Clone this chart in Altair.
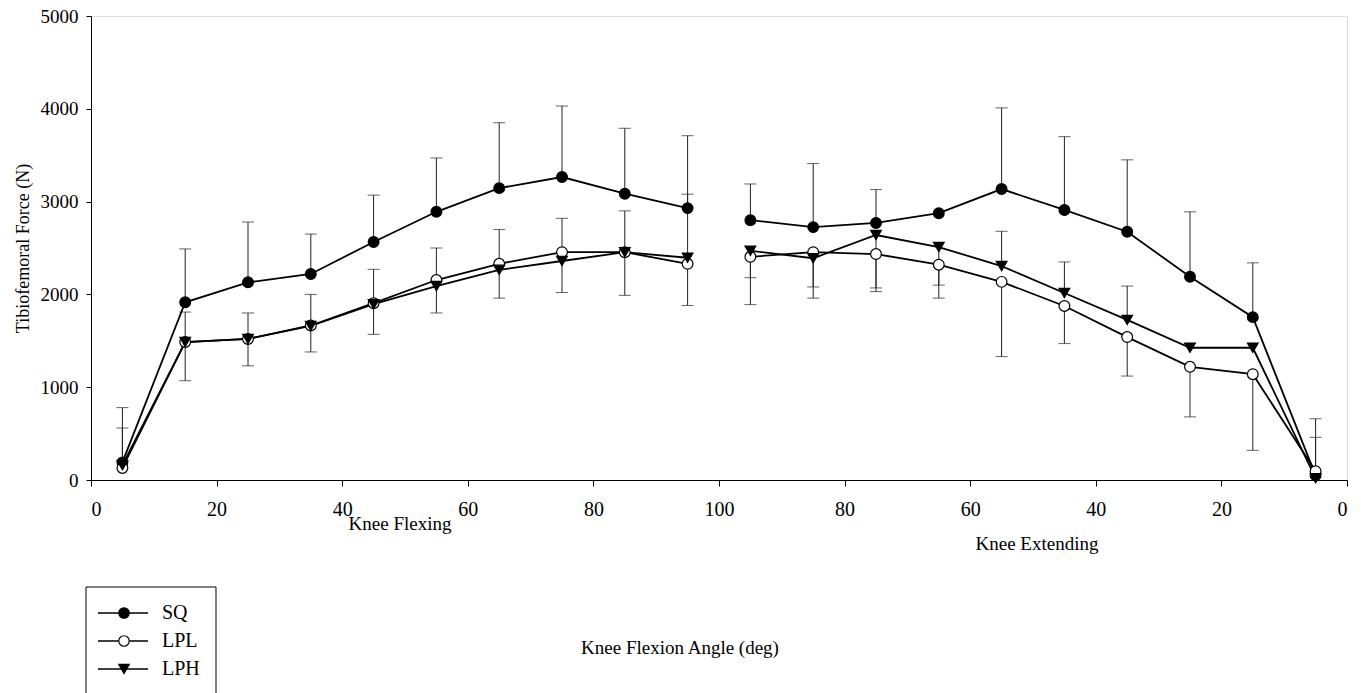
import altair as alt
import pandas as pd

# ---- data ----
angle_pos = [5, 15, 25, 35, 45, 55, 65, 75, 85, 95,
             105, 115, 125, 135, 145, 155, 165, 175, 185, 195]
segment = ["flex"] * 10 + ["ext"] * 10

sq = [190, 1915, 2130, 2220, 2565, 2890, 3145, 3265, 3085, 2930,
      2800, 2725, 2770, 2875, 3135, 2910, 2675, 2190, 1755, 50]
lpl = [130, 1487, 1520, 1665, 1905, 2155, 2330, 2455, 2455, 2330,
       2405, 2455, 2435, 2320, 2135, 1875, 1540, 1220, 1140, 95]
lph = [160, 1487, 1520, 1660, 1895, 2090, 2265, 2360, 2455, 2395,
       2470, 2390, 2640, 2510, 2305, 2015, 1725, 1425, 1425, 20]

# error bar end points (None = no bar drawn)
sq_err = [780, 2490, 2780, 2650, 3070, 3470, 3850, 4030, 3790, 3710,
          3190, 3410, 3130, None, 4010, 3700, 3450, 2890, 2340, 660]
lpl_err = [None, 1070, 1230, 1380, 1570, 1800, 1960, 2020, 1990, 1880,
           1890, 1960, 2030, 1960, 1330, 1470, 1120, 680, 320, None]
lph_err = [560, 1810, 1800, 2000, 2270, 2500, 2700, 2820, 2900, 3080,
           2180, 2080, 2070, 2100, 2680, 2350, 2090, None, None, 460]

series_names = ["SQ", "LPL", "LPH"]
series_vals = [sq, lpl, lph]
series_errs = [sq_err, lpl_err, lph_err]
shapes = ["circle", "circle", "triangle-down"]
fills = ["black", "white", "black"]

x_ticks = [0, 20, 40, 60, 80, 100, 120, 140, 160, 180, 200]
y_ticks = [0, 1000, 2000, 3000, 4000, 5000]

rows, err_rows = [], []
for name, vals, errs in zip(series_names, series_vals, series_errs):
    for x, seg, v, e in zip(angle_pos, segment, vals, errs):
        rows.append({"series": name, "x": x, "seg": seg, "y": v})
        if e is not None:
            err_rows.append({"series": name, "x": x, "y": v, "end": e})
df = pd.DataFrame(rows)
err_df = pd.DataFrame(err_rows)

FONT = "Liberation Serif"
W, H = 1256, 464

xs = alt.Scale(domain=[0, 200], nice=False)
ys = alt.Scale(domain=[0, 5000], nice=False)

x_enc = alt.X("x:Q", scale=xs, axis=alt.Axis(
    values=x_ticks, title=None, grid=False,
    labelExpr="datum.value <= 100 ? datum.value : 200 - datum.value",
    labelFont=FONT, labelFontSize=20, labelColor="black",
    tickColor="black", domainColor="black", tickSize=6, labelPadding=13))
y_enc = alt.Y("y:Q", scale=ys, axis=alt.Axis(
    values=y_ticks, title="Tibiofemoral Force (N)", grid=False, format="d",
    labelFont=FONT, labelFontSize=19, labelColor="black", labelPadding=8,
    titleFont=FONT, titleFontSize=18, titleFontWeight="normal", titleColor="black",
    titlePadding=8, tickColor="black", domainColor="black", tickSize=5))

err_rule = alt.Chart(err_df).mark_rule(color="#222", strokeWidth=1).encode(
    x=alt.X("x:Q", scale=xs), y=alt.Y("y:Q", scale=ys), y2="end:Q")
err_cap = alt.Chart(err_df).mark_tick(color="#222", thickness=1, size=12, orient="horizontal").encode(
    x=alt.X("x:Q", scale=xs), y=alt.Y("end:Q", scale=ys))

lines = alt.Chart(df).mark_line(color="black", strokeWidth=1.8).encode(
    x=x_enc, y=y_enc, detail=["series:N", "seg:N"])

pts = alt.Chart(df).mark_point(size=115, stroke="black", strokeWidth=1.2, opacity=1).encode(
    x=alt.X("x:Q", scale=xs), y=alt.Y("y:Q", scale=ys),
    shape=alt.Shape("series:N", scale=alt.Scale(domain=series_names, range=shapes), legend=None),
    fill=alt.Fill("series:N", scale=alt.Scale(domain=series_names, range=fills), legend=None))

base_txt = alt.Chart(pd.DataFrame({"a": [0]}))
t1 = base_txt.mark_text(font=FONT, fontSize=19, color="black").encode(
    x=alt.value(309), y=alt.value(508), text=alt.value("Knee Flexing"))
t2 = base_txt.mark_text(font=FONT, fontSize=19, color="black").encode(
    x=alt.value(946), y=alt.value(528), text=alt.value("Knee Extending"))
t3 = base_txt.mark_text(font=FONT, fontSize=19, color="black").encode(
    x=alt.value(589), y=alt.value(632), text=alt.value("Knee Flexion Angle (deg)"))

# manual legend (line through marker)
leg_box = base_txt.mark_rect(fill="white", stroke="black", strokeWidth=1).encode(
    x=alt.value(-5), x2=alt.value(125), y=alt.value(571), y2=alt.value(700))
legend_layers = [leg_box]
for i, (name, shp, fl) in enumerate(zip(series_names, shapes, fills)):
    yy = 597 + i * 28
    legend_layers.append(base_txt.mark_rule(color="black", strokeWidth=1.5).encode(
        x=alt.value(7), x2=alt.value(57), y=alt.value(yy)))
    legend_layers.append(base_txt.mark_point(size=110, shape=shp, fill=fl, stroke="black",
                                             strokeWidth=1.2, opacity=1).encode(
        x=alt.value(33), y=alt.value(yy)))
    legend_layers.append(base_txt.mark_text(font=FONT, fontSize=20, color="black", align="left",
                                            baseline="middle").encode(
        x=alt.value(71), y=alt.value(yy), text=alt.value(name)))

chart = alt.layer(err_rule, err_cap, lines, pts, t1, t2, t3, *legend_layers).properties(
    width=W, height=H,
    autosize=alt.AutoSizeParams(type="none"),
    padding={"left": 91, "top": 16, "right": 14, "bottom": 213},
).configure_view(stroke="black", strokeWidth=1).configure(background="white")

chart.save("out.html", embed_options={"renderer": "svg", "actions": False})
